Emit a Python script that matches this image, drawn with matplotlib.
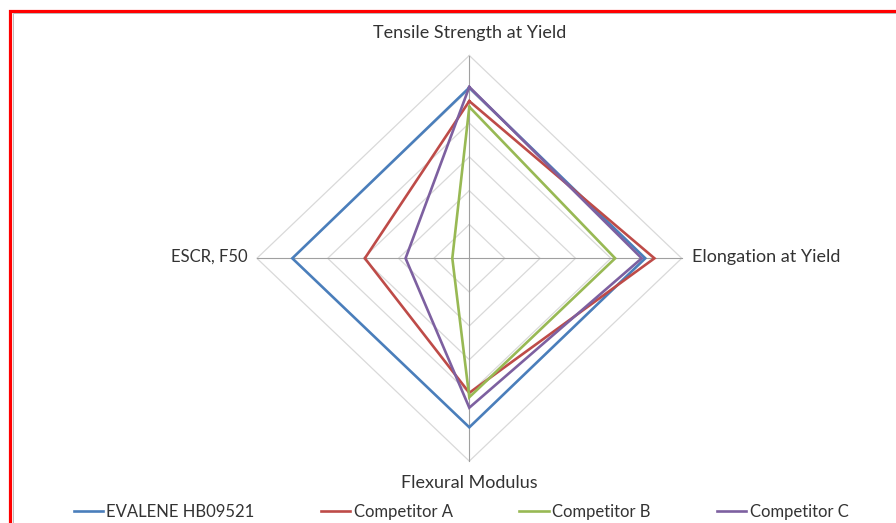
import numpy as np
import matplotlib
matplotlib.use("Agg")
import matplotlib.pyplot as plt
from matplotlib.patches import Rectangle
from matplotlib.lines import Line2D

plt.rcParams['font.family'] = ['Lato', 'DejaVu Sans']

# spokes, clockwise from the top
categories = ["Tensile Strength at Yield", "Elongation at Yield", "Flexural Modulus", "ESCR, F50"]
series_names = ["EVALENE HB09521", "Competitor A", "Competitor B", "Competitor C"]
evalene = [5.05, 4.97, 5.0, 5.0]
comp_a = [4.65, 5.23, 3.98, 2.95]
comp_b = [4.48, 4.12, 4.11, 0.48]
comp_c = [5.07, 4.87, 4.42, 1.8]
ring_levels = [1, 2, 3, 4, 5, 6]

colors = ["#4A7EBB", "#BE4B48", "#98B954", "#7D60A0"]
text_col = "#333333"

angles = np.arange(len(categories)) * 2 * np.pi / len(categories)


def to_xy(vals):
    vals = np.asarray(vals, dtype=float)
    x = vals * np.sin(angles)
    y = vals * np.cos(angles)
    # close the polygon
    return np.append(x, x[0]), np.append(y, y[0])


fig = plt.figure(figsize=(8.96, 5.23), dpi=100)
ax = fig.add_axes([0, 0, 1, 1])
ax.axis('off')
# centre of the web and pixels per unit
cx, cy, sx, sy = 469.3, 258.3, 35.4, 33.8
ax.set_xlim(-cx / sx, (896 - cx) / sx)
ax.set_ylim(-(523 - cy) / sy, cy / sy)

# grid rings and spokes
for lev in ring_levels:
    gx, gy = to_xy([lev] * len(categories))
    ax.plot(gx, gy, color="#d9d9d9", lw=0.9, zorder=1)
top = max(ring_levels)
for a in angles:
    ax.plot([0, top * np.sin(a)], [0, top * np.cos(a)], color="#a0a0a0", lw=0.8, zorder=1)

# series
for name, vals, c in zip(series_names, [evalene, comp_a, comp_b, comp_c], colors):
    px, py = to_xy(vals)
    ax.plot(px, py, color=c, lw=1.9, zorder=3, solid_joinstyle='miter')

# category labels
fs = 13
ax.text(0, 6.67, categories[0], ha='center', va='center', fontsize=fs, color=text_col)
ax.text(6.28, 0.05, categories[1], ha='left', va='center', fontsize=fs, color=text_col)
ax.text(0, -6.64, categories[2], ha='center', va='center', fontsize=fs, color=text_col)
ax.text(-6.25, 0.05, categories[3], ha='right', va='center', fontsize=12, color=text_col)

# legend
handles = [Line2D([], [], color=c, lw=1.9) for c in colors]
leg = fig.legend(handles, series_names, loc='center', bbox_to_anchor=(461 / 896, 1 - 511.7 / 523),
                 ncol=4, frameon=False, fontsize=12, handlelength=1.75, handletextpad=0.2,
                 columnspacing=4.0, labelcolor=text_col)

# red frame around the chart
fig.patches.append(Rectangle((10 / 896, -0.1), 1.2, 0.1 + (523 - 11) / 523, transform=fig.transFigure,
                             fill=False, edgecolor="#ff0000", lw=2.3, zorder=10))
fig.patches.append(Rectangle((12.5 / 896, -0.1), 1.2, 0.1 + (523 - 13.5) / 523, transform=fig.transFigure,
                             fill=False, edgecolor="#b0b0b0", lw=0.6, zorder=10))

fig.savefig("out.png", dpi=100, facecolor="white")
